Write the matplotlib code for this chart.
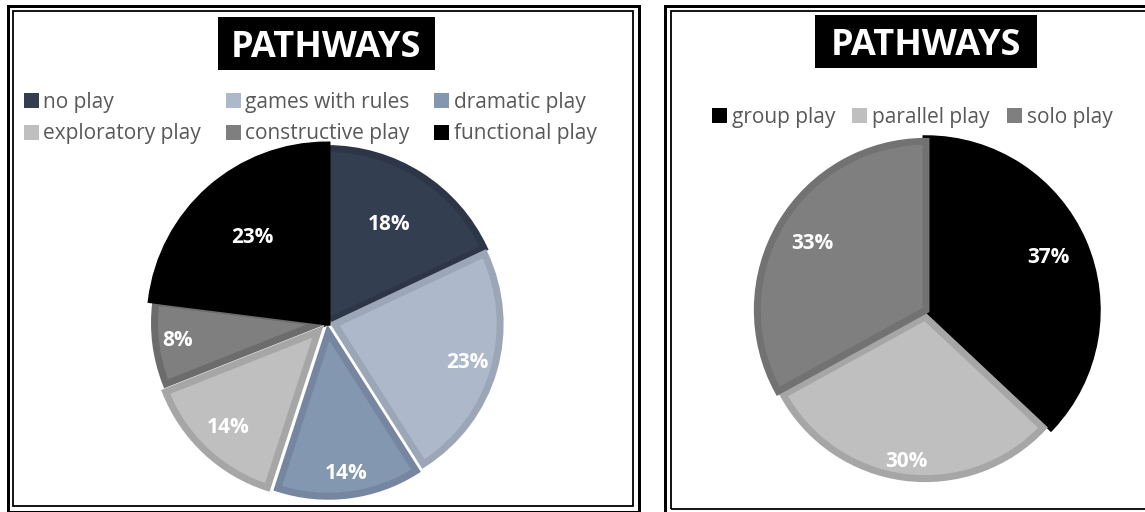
import numpy as np
import matplotlib
matplotlib.use("Agg")
import matplotlib.pyplot as plt
from matplotlib.patches import Rectangle, Patch

plt.rcParams['font.family'] = ['Open Sans', 'DejaVu Sans']

W, H = 1145, 512

# left chart
play_types = ['no play', 'games with rules', 'dramatic play',
              'exploratory play', 'constructive play', 'functional play']
play_pct = [18, 23, 14, 14, 8, 23]
play_fill = ['#333f50', '#adb9ca', '#8497b0', '#bfbfbf', '#7f7f7f', '#000000']
play_edge = ['#2c3646', '#9ba6b7', '#7686a0', '#a6a6a6', '#6c6c6c', '#000000']

# right chart
social_types = ['group play', 'parallel play', 'solo play']
social_pct = [37, 30, 33]
social_fill = ['#000000', '#bfbfbf', '#7f7f7f']
social_edge = ['#000000', '#a6a6a6', '#727272']

fig = plt.figure(figsize=(W / 100, H / 100), dpi=100)


def frame(x0, y0, x1, y1, lw):
    fig.add_artist(Rectangle((x0 / W, 1 - y1 / H), (x1 - x0) / W, (y1 - y0) / H,
                             transform=fig.transFigure, fill=False,
                             ec='black', lw=lw * 0.72))


def title_box(cx, y0, y1, width):
    fig.add_artist(Rectangle(((cx - width / 2) / W, 1 - y1 / H), width / W, (y1 - y0) / H,
                             transform=fig.transFigure, fc='black', ec='none'))
    fig.text(cx / W, 1 - (y0 + y1) / 2 / H, 'PATHWAYS', color='white', fontsize=26,
             fontweight='bold', ha='center', va='center_baseline')


def draw_pie(cx, cy, r, values, fills, edges, explode, radii, dists):
    ext = 1.12
    ax = fig.add_axes([(cx - ext * r) / W, (H - cy - ext * r) / H,
                       2 * ext * r / W, 2 * ext * r / H])
    wedges, _ = ax.pie(values, colors=fills, explode=explode, startangle=90,
                       counterclock=False,
                       wedgeprops=dict(linewidth=5, joinstyle='miter'))
    for w, ec, rad, d, v in zip(wedges, edges, radii, dists, values):
        w.set_edgecolor(ec)
        w.set_radius(rad)
        a = np.deg2rad((w.theta1 + w.theta2) / 2)
        ax.text(w.center[0] + d * np.cos(a), w.center[1] + d * np.sin(a), f'{v}%',
                color='white', fontsize=15, fontweight='bold',
                ha='center', va='center')
    ax.set_xlim(-ext, ext)
    ax.set_ylim(-ext, ext)
    ax.axis('off')
    return ax


# panel borders
frame(7.5, 5.5, 639, 511.5, 3)
frame(13, 11, 633, 506, 1.8)
frame(665, 5.5, 1160, 513, 3)
frame(671, 10.5, 1155, 509, 1.8)

title_box(326, 17, 70, 217)
title_box(926, 15, 68, 222)

draw_pie(327, 322, 177, play_pct, play_fill, play_edge,
         explode=[0, 0.045, 0.06, 0.075, 0.04, 0],
         radii=[0.98, 0.935, 0.925, 0.925, 0.935, 1.0],
         dists=[0.65, 0.78, 0.80, 0.74, 0.81, 0.64])

draw_pie(926, 310, 173, social_pct, social_fill, social_edge,
         explode=[0, 0.04, 0.0],
         radii=[0.99, 0.935, 0.975],
         dists=[0.77, 0.84, 0.76])

# legends (matplotlib fills columns first, so reorder for row-wise layout)
order = [0, 3, 1, 4, 2, 5]
h1 = [Patch(fc=play_fill[i], ec='none') for i in order]
l1 = [play_types[i] for i in order]
fig.legend(h1, l1, ncol=3, loc='upper left', bbox_to_anchor=(24 / W, 1 - 92 / H),
           frameon=False, fontsize=15, labelcolor='#595959', borderpad=0,
           borderaxespad=0, handlelength=0.72, handleheight=0.72,
           handletextpad=0.2, columnspacing=1.2, labelspacing=0.5)

h2 = [Patch(fc=c, ec='none') for c in social_fill]
fig.legend(h2, social_types, ncol=3, loc='upper left', bbox_to_anchor=(712 / W, 1 - 107 / H),
           frameon=False, fontsize=15, labelcolor='#595959', borderpad=0,
           borderaxespad=0, handlelength=0.72, handleheight=0.72,
           handletextpad=0.25, columnspacing=0.8)

fig.savefig('out.png', dpi=100)
